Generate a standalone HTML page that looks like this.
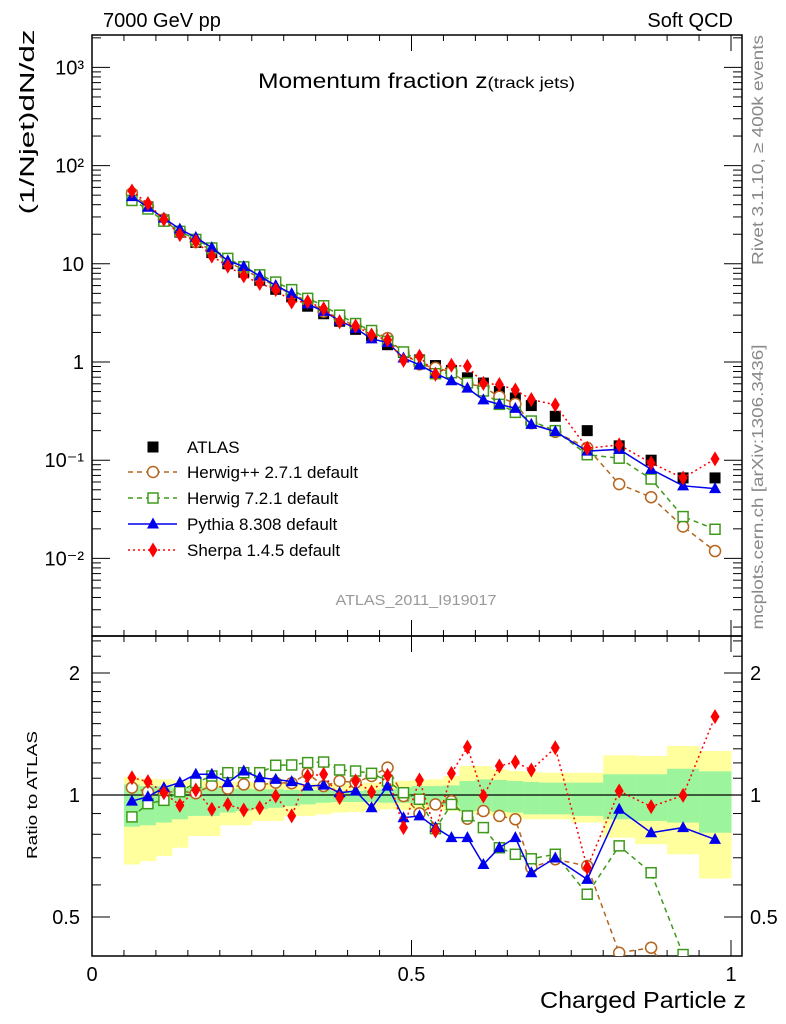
<!DOCTYPE html>
<html><head><meta charset="utf-8"><style>
html,body{margin:0;padding:0;background:#fff;overflow:hidden;width:786px;height:1024px;}
svg{display:block;font-family:"Liberation Sans",Arial,sans-serif;}
</style></head><body>
<svg id="chart" width="786" height="1024" viewBox="0 0 786 1024" xmlns="http://www.w3.org/2000/svg">
<g id="bands"></g>
<g id="axes"></g>
<g id="series"></g>
<text x="103" y="27" font-size="20">7000 GeV pp</text>
<text x="733" y="27" font-size="20" text-anchor="end">Soft QCD</text>
<text x="258" y="88" font-size="21" textLength="317" lengthAdjust="spacingAndGlyphs">Momentum fraction z<tspan font-size="16">(track jets)</tspan></text>
<text transform="translate(34,122) rotate(-90)" font-size="20" text-anchor="middle" textLength="185" lengthAdjust="spacingAndGlyphs">(1/Njet)dN/dz</text>
<text transform="translate(37,795) rotate(-90)" font-size="15" text-anchor="middle" textLength="128" lengthAdjust="spacingAndGlyphs">Ratio to ATLAS</text>
<text x="746" y="1008" font-size="23" text-anchor="end" textLength="206" lengthAdjust="spacingAndGlyphs">Charged Particle z</text>
<text transform="translate(763,150) rotate(-90)" font-size="16" fill="#888" text-anchor="middle" textLength="230" lengthAdjust="spacingAndGlyphs">Rivet 3.1.10, ≥ 400k events</text>
<text transform="translate(763,487) rotate(-90)" font-size="16" fill="#888" text-anchor="middle" textLength="285" lengthAdjust="spacingAndGlyphs">mcplots.cern.ch [arXiv:1306.3436]</text>
<text x="416" y="605" font-size="15" fill="#999" text-anchor="middle" textLength="161" lengthAdjust="spacingAndGlyphs">ATLAS_2011_I919017</text>
<g id="legend"></g>
</svg>
<script>
const zCenters=[0.0625,0.0875,0.1125,0.1375,0.1625,0.1875,0.2125,0.2375,0.2625,0.2875,0.3125,0.3375,0.3625,0.3875,0.4125,0.4375,0.4625,0.4875,0.5125,0.5375,0.5625,0.5875,0.6125,0.6375,0.6625,0.6875,0.725,0.775,0.825,0.875,0.925,0.975];
const binEdges=[0.05,0.075,0.1,0.125,0.15,0.175,0.2,0.225,0.25,0.275,0.3,0.325,0.35,0.375,0.4,0.425,0.45,0.475,0.5,0.525,0.55,0.575,0.6,0.625,0.65,0.675,0.7,0.75,0.8,0.85,0.9,0.95,1.0];
const atlasValues=[50,38,28,21,16.5,13,10,8.2,6.8,5.5,4.6,3.7,3.1,2.6,2.15,1.85,1.5,1.25,1.05,0.92,0.82,0.69,0.61,0.5,0.43,0.36,0.28,0.2,0.14,0.1,0.066,0.066];
const ratioHerwigPP=[1.043,1.017,1.013,1.023,1.010,1.058,1.037,1.062,1.058,1.073,1.069,1.131,1.052,1.083,1.073,1.114,1.168,0.994,0.901,0.948,0.966,0.874,0.913,0.888,0.871,0.662,0.694,0.668,0.408,0.42,0.32,0.18];
const ratioHerwig7=[0.883,0.952,0.970,1.019,1.073,1.114,1.135,1.135,1.135,1.184,1.186,1.202,1.206,1.153,1.146,1.131,1.083,1.013,0.976,0.826,0.948,0.888,0.831,0.741,0.714,0.696,0.714,0.569,0.749,0.643,0.404,0.30];
const ratioPythia=[0.966,0.99,1.043,1.073,1.125,1.125,1.073,1.146,1.103,1.093,1.079,1.052,1.058,1.013,1.023,0.93,1.052,0.879,0.888,0.831,0.785,0.785,0.674,0.741,0.785,0.643,0.699,0.619,0.922,0.807,0.831,0.777];
const ratioSherpa=[1.103,1.079,1.013,0.943,1.029,0.922,0.948,0.918,0.930,0.994,0.888,1.114,1.125,0.985,1.083,1.017,1.118,0.831,1.089,0.815,1.131,1.313,0.994,1.179,1.206,1.153,1.308,0.662,1.023,0.936,0.998,1.561];
const bandTotalHi=[1.107,1.097,1.093,1.087,1.083,1.083,1.079,1.079,1.073,1.073,1.069,1.069,1.066,1.066,1.066,1.073,1.077,1.083,1.089,1.093,1.114,1.179,1.179,1.157,1.146,1.140,1.135,1.135,1.253,1.248,1.321,1.284];
const bandTotalLo=[0.674,0.687,0.707,0.741,0.792,0.792,0.842,0.842,0.863,0.863,0.888,0.888,0.896,0.905,0.908,0.913,0.922,0.918,0.922,0.922,0.913,0.905,0.896,0.888,0.879,0.871,0.871,0.855,0.785,0.756,0.714,0.622];
const bandStatHi=[1.062,1.052,1.052,1.043,1.043,1.043,1.037,1.037,1.033,1.033,1.029,1.029,1.029,1.023,1.023,1.029,1.033,1.043,1.052,1.052,1.056,1.083,1.093,1.089,1.083,1.077,1.073,1.073,1.125,1.125,1.161,1.144];
const bandStatLo=[0.835,0.842,0.855,0.871,0.888,0.888,0.905,0.913,0.922,0.930,0.939,0.948,0.957,0.961,0.961,0.961,0.957,0.957,0.948,0.939,0.939,0.913,0.913,0.908,0.905,0.896,0.896,0.888,0.871,0.863,0.855,0.807];
const yTickLabels=["10⁻²","10⁻¹","1","10","10²","10³"];
const ratioTickLabels=["0.5","1","2"];
const xTickLabels=["0","0.5","1"];

const NS="http://www.w3.org/2000/svg";
const L=92,R=742,T=35,MID=636,B=956;
const X=z=>92+z*639;
const Y=v=>362-Math.log10(v)*98.2;
const YR=r=>795-Math.log2(r)*122;
function mk(tag,attrs,parent){const e=document.createElementNS(NS,tag);for(const k in attrs)e.setAttribute(k,attrs[k]);parent.appendChild(e);return e;}
const axes=document.getElementById('axes'),series=document.getElementById('series'),bands=document.getElementById('bands'),legend=document.getElementById('legend');

for(let i=0;i<zCenters.length;i++){
  const x0=X(binEdges[i]),x1=X(binEdges[i+1]);
  const y=mk('rect',{x:x0,y:YR(bandTotalHi[i]),width:x1-x0+0.5,height:YR(bandTotalLo[i])-YR(bandTotalHi[i]),fill:'#ffff9e'},bands);
  
  
  const g=mk('rect',{x:x0,y:YR(bandStatHi[i]),width:x1-x0+0.5,height:YR(bandStatLo[i])-YR(bandStatHi[i]),fill:'#9cf59c'},bands);
  
  
}
const ul=mk('line',{x1:L,x2:R,y1:YR(1),y2:YR(1),stroke:'#000','stroke-width':1.3},axes);



for(const [t,b,nm] of [[T,MID,'main-frame'],[MID,B,'ratio-frame']]){
  const r=mk('rect',{x:L,y:t,width:R-L,height:b-t,fill:'none',stroke:'#000','stroke-width':1.5},axes);
  
  
}
for(let k=0;k<=20;k++){
  const z=k*0.05,x=X(z),maj=(k%10===0),len=maj?16:6;
  for(const [yb,dir] of [[T,1],[MID,-1],[MID,1],[B,-1]]){
    mk('line',{x1:x,x2:x,y1:yb,y2:yb+dir*len,stroke:'#000','stroke-width':1},axes);
  }
}
xTickLabels.forEach((s,i)=>{
  const t=mk('text',{x:X(i*0.5),y:981,'font-size':20,'text-anchor':'middle'},axes);t.textContent=s;
  
  
});
for(let d=-3;d<=3;d++){
  for(let m=1;m<10;m++){
    const v=m*Math.pow(10,d),y=Y(v);if(y<T||y>MID)continue;
    const len=m===1?18:9;
    mk('line',{x1:L,x2:L+len,y1:y,y2:y,stroke:'#000','stroke-width':1},axes);
    mk('line',{x1:R,x2:R-len,y1:y,y2:y,stroke:'#000','stroke-width':1},axes);
  }
}
yTickLabels.forEach((s,i)=>{
  const t=mk('text',{x:84,y:Y(Math.pow(10,i-2))+7,'font-size':20,'text-anchor':'end'},axes);t.textContent=s;
  
  
});
[0.4,0.5,0.6,0.7,0.8,0.9,1,1.1,1.2,1.3,1.4,1.5,1.6,1.7,1.8,1.9,2,2.2,2.4].forEach(v=>{
  const y=YR(v);if(y<MID||y>B)return;
  const len=(v===0.5||v===1||v===2)?18:9;
  mk('line',{x1:L,x2:L+len,y1:y,y2:y,stroke:'#000','stroke-width':1},axes);
  mk('line',{x1:R,x2:R-len,y1:y,y2:y,stroke:'#000','stroke-width':1},axes);
});
ratioTickLabels.forEach(s=>{
  const v=parseFloat(s);
  const t=mk('text',{x:80,y:YR(v)+7,'font-size':20,'text-anchor':'end'},axes);t.textContent=s;
  
  
  const t2=mk('text',{x:750,y:YR(v)+7,'font-size':20},axes);t2.textContent=s;
  
  
});

function marker(type,x,y,col,parent){
  let e;
  if(type==='square')e=mk('rect',{x:x-5.5,y:y-5.5,width:11,height:11,fill:'#000'},parent);
  else if(type==='osquare')e=mk('rect',{x:x-5,y:y-5,width:10,height:10,fill:'none',stroke:col,'stroke-width':1.5},parent);
  else if(type==='circle')e=mk('circle',{cx:x,cy:y,r:5.5,fill:'none',stroke:col,'stroke-width':1.5},parent);
  else if(type==='tri')e=mk('polygon',{points:`${x},${y-6.5} ${x-6},${y+4.5} ${x+6},${y+4.5}`,fill:col},parent);
  else e=mk('polygon',{points:`${x},${y-7.5} ${x+4.5},${y} ${x},${y+7.5} ${x-4.5},${y}`,fill:col},parent);
  return e;
}
const mcs=[
 {name:'herwigpp',ratio:ratioHerwigPP,col:'#b5651d',dash:'5,4',m:'circle',label:'Herwig++ 2.7.1 default'},
 {name:'herwig7',ratio:ratioHerwig7,col:'#3f9a1c',dash:'5,4',m:'osquare',label:'Herwig 7.2.1 default'},
 {name:'pythia',ratio:ratioPythia,col:'#0000ee',dash:'',m:'tri',label:'Pythia 8.308 default'},
 {name:'sherpa',ratio:ratioSherpa,col:'#ff0000',dash:'2,3',m:'diamond',label:'Sherpa 1.4.5 default'}
];
const defs=mk('defs',{},document.getElementById('chart'));
const c1=mk('clipPath',{id:'clipMain'},defs);mk('rect',{x:L,y:T,width:R-L,height:MID-T},c1);
const c2=mk('clipPath',{id:'clipRatio'},defs);mk('rect',{x:L,y:MID,width:R-L,height:B-MID},c2);
const gMain=mk('g',{'clip-path':'url(#clipMain)'},series);


const gRatio=mk('g',{'clip-path':'url(#clipRatio)'},series);



atlasValues.forEach((v,i)=>{
  const e=marker('square',X(zCenters[i]),Y(v),'#000',gMain);
  
  
});
mcs.forEach(s=>{
  const ptsM=zCenters.map((z,i)=>[X(z),Y(atlasValues[i]*s.ratio[i])]);
  const ptsR=zCenters.map((z,i)=>[X(z),YR(s.ratio[i])]);
  for(const [pts,g,nm] of [[ptsM,gMain,'main'],[ptsR,gRatio,'ratio']]){
    const pl=mk('polyline',{points:pts.map(p=>p.join(',')).join(' '),fill:'none',stroke:s.col,'stroke-width':1.5,'stroke-dasharray':s.dash},g);
    
    
    pts.forEach(p=>{
      const e=marker(s.m,p[0],p[1],s.col,g);
      if(s.m==='circle'||s.m==='osquare')e.setAttribute('fill','#fff');
      
      
    });
  }
});
const ly=[447,472,498,524,550];
const la=marker('square',153,ly[0],'#000',legend);


const lt0=mk('text',{x:187,y:ly[0]+6,'font-size':17},legend);lt0.textContent='ATLAS';


mcs.forEach((s,k)=>{
  const y=ly[k+1];
  const ln=mk('line',{x1:128,x2:177,y1:y,y2:y,stroke:s.col,'stroke-width':1.5,'stroke-dasharray':s.dash},legend);
  
  
  const m=marker(s.m,153,y,s.col,legend);
  if(s.m==='circle'||s.m==='osquare')m.setAttribute('fill','#fff');
  
  
  const t=mk('text',{x:187,y:y+6,'font-size':17},legend);t.textContent=s.label;
  
  
});
</script>
</body></html>
